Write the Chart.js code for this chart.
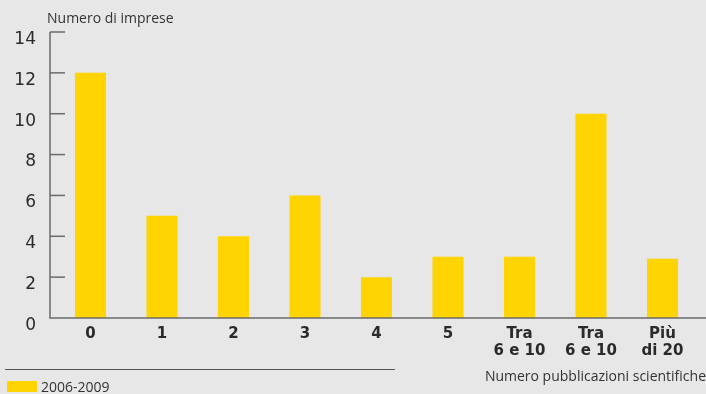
<!DOCTYPE html>
<html><head><meta charset="utf-8">
<script src="https://cdn.jsdelivr.net/npm/chart.js@4/dist/chart.umd.min.js"></script>
<style>html,body{margin:0;padding:0;background:#e6e7e6;} canvas{display:block}</style>
</head><body>
<canvas id="c" width="706" height="394"></canvas>
<script>
const categories = ['0', '1', '2', '3', '4', '5', ['Tra', '6 e 10'], ['Tra', '6 e 10'], ['Più', 'di 20']];
const values = [12, 5, 4, 6, 2, 3, 3, 10, 2.9];
const yTicks = [0, 2, 4, 6, 8, 10, 12, 14];
const seriesLabel = '2006-2009';
const yTitle = 'Numero di imprese';
const xTitle = 'Numero pubblicazioni scientifiche';

const BAR = '#ffd400';
const AXIS = '#6a6a6a';
const TEXT = '#2a2a2a';

const deco = {
  id: 'deco',
  beforeDraw(chart) {
    const ctx = chart.ctx;
    ctx.save();
    ctx.fillStyle = '#e6e7e6';
    ctx.fillRect(0, 0, chart.width, chart.height);
    ctx.restore();
  },
  afterDatasetsDraw(chart) {
    const { ctx, chartArea, scales: { x, y } } = chart;
    const ax = chartArea.left - 4.75;
    const yTop = y.getPixelForValue(yTicks[yTicks.length - 1]);
    const y0 = y.getPixelForValue(0);
    ctx.save();
    ctx.strokeStyle = AXIS;
    ctx.lineWidth = 1.5;
    ctx.beginPath();
    ctx.moveTo(ax, yTop);
    ctx.lineTo(ax, y0);
    ctx.stroke();
    yTicks.forEach(v => {
      if (v === 0) return;
      const py = y.getPixelForValue(v);
      ctx.beginPath();
      ctx.moveTo(ax, py);
      ctx.lineTo(ax + 15, py);
      ctx.stroke();
    });
    ctx.beginPath();
    ctx.moveTo(ax - 0.75, y0);
    ctx.lineTo(chart.width, y0);
    ctx.stroke();

    // titles
    ctx.fillStyle = '#333';
    ctx.font = '14px "Open Sans"';
    ctx.textBaseline = 'alphabetic';
    ctx.textAlign = 'left';
    ctx.fillText(yTitle, 47, 23);
    ctx.textAlign = 'right';
    ctx.fillText(xTitle, 706, 381);

    // legend
    ctx.strokeStyle = '#555';
    ctx.lineWidth = 1;
    ctx.beginPath();
    ctx.moveTo(5, 369.5);
    ctx.lineTo(395, 369.5);
    ctx.stroke();
    ctx.fillStyle = chart.data.datasets[0].backgroundColor;
    ctx.fillRect(7, 381, 30, 11);
    ctx.fillStyle = '#333';
    ctx.textAlign = 'left';
    ctx.fillText(chart.data.datasets[0].label, 41, 391.5);
    ctx.restore();
  }
};

new Chart(document.getElementById('c'), {
  type: 'bar',
  data: {
    labels: categories,
    datasets: [{
      label: seriesLabel,
      data: values,
      backgroundColor: BAR,
      borderWidth: 0,
      barPercentage: 0.434,
      categoryPercentage: 1
    }]
  },
  options: {
    responsive: false,
    animation: false,
    devicePixelRatio: 1,
    layout: { padding: { top: 32, right: 7.75, left: 0, bottom: 0 } },
    plugins: { legend: { display: false }, title: { display: false }, tooltip: { enabled: false } },
    scales: {
      x: {
        grid: { display: false, drawTicks: false },
        border: { display: false },
        ticks: {
          font: { family: '"DejaVu Sans"', size: 15, weight: 'bold', lineHeight: 1.15 },
          color: TEXT,
          padding: 7,
          maxRotation: 0,
          autoSkip: false
        },
        afterFit(scale) { scale.height = 76; }
      },
      y: {
        min: 0,
        max: 14,
        grid: { display: false, drawTicks: false },
        border: { display: false },
        afterBuildTicks(scale) { scale.ticks = yTicks.map(v => ({ value: v })); },
        ticks: {
          font: { family: '"DejaVu Sans"', size: 17 },
          color: TEXT,
          padding: 18.75,
          labelOffset: 7.5
        },
        afterFit(scale) { scale.width = 54.75; }
      }
    }
  },
  plugins: [deco]
});
</script>
</body></html>
